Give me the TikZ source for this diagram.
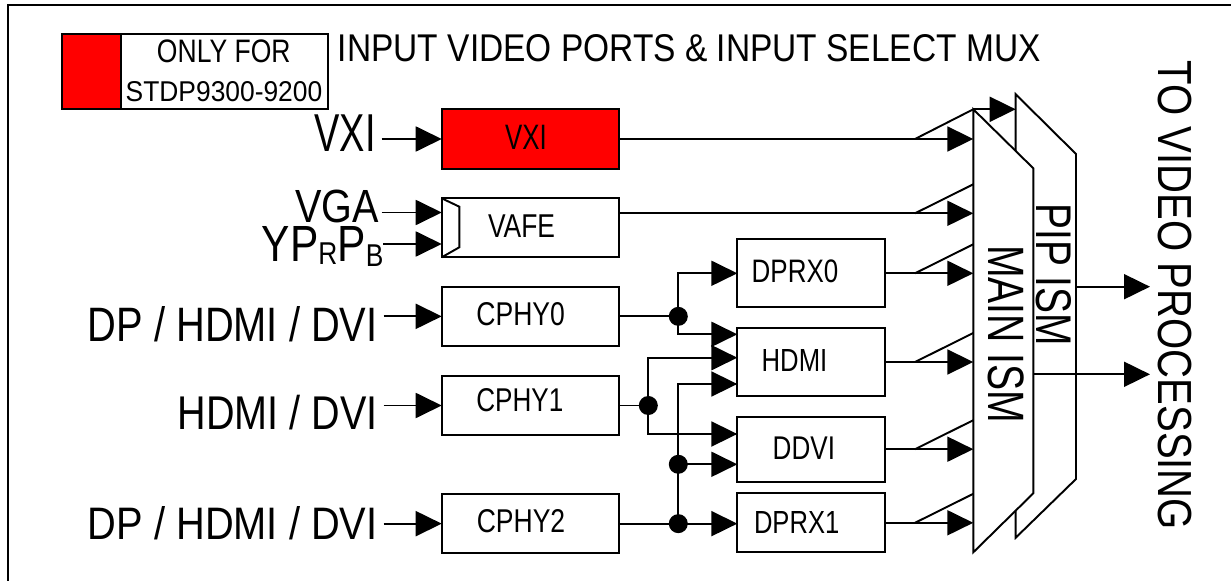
\documentclass[tikz,border=0pt]{standalone}
\usepackage{fontspec}
\setmainfont{Liberation Sans}
\usepackage{graphicx}
\usetikzlibrary{arrows.meta,calc}
\definecolor{vred}{RGB}{255,0,0}
\newlength\pxu
\setlength\pxu{0.02cm}
\newcommand\fitt[3]{\resizebox{#1\pxu}{#2\pxu}{#3}}
\begin{document}
\begin{tikzpicture}[x=0.02cm,y=-0.02cm,
  every node/.style={inner sep=0pt,outer sep=0pt},
  ln/.style={line width=1.1pt},
  arr/.style={ln,-{Triangle[length=0.52cm,width=0.5cm]}},
  lbox/.style={draw,ln,fill=white,minimum width=3.552cm,minimum height=1.186cm},
  rbox/.style={draw,ln,fill=white,minimum width=2.954cm},
  lbl/.style={outer xsep=0.12cm},
  dot/.style={circle,fill=black,minimum size=0.38cm}]
\useasboundingbox (0,0) rectangle (1231,581);

% frame
\draw[line width=1.45pt] (8,581) -- (8,5) -- (1231,5);

% legend and title
\node[draw,ln,minimum width=5.32cm,minimum height=1.506cm] (legend) at (195,71.65) {};
\node[draw,ln,fill=vred,minimum width=1.18cm,minimum height=1.506cm] (legred) at (91.5,71.65) {};
\node (leg1) at (223.8,51.35) {\fitt{133.6}{22.7}{ONLY FOR}};
\node (leg2) at (224,91.7) {\fitt{196.6}{20}{STDP9300-9200}};
\node (title) at (689.3,48.35) {\fitt{702.6}{27}{INPUT VIDEO PORTS \& INPUT SELECT MUX}};

% left column boxes
\node[lbox,fill=vred,minimum height=1.188cm] (vxi) at (530.5,139) {};
\node (vxit) at (526,137.2) {\fitt{41.7}{24.3}{VXI}};
\node[lbox,minimum height=1.18cm] (vafe) at (530.5,227.8) {};
\draw[ln] (vafe.north west) -- ++(17.6,8.4) -- ++(0,40.6) -- (vafe.south west);
\node (vafet) at (521.5,226.35) {\fitt{67}{22.7}{VAFE}};
\node[lbox] (cphy0) at (530.5,316.35) {};
\node (cphy0t) at (520.7,314.2) {\fitt{88.5}{23}{CPHY0}};
\node[lbox] (cphy1) at (530.5,405.5) {};
\node (cphy1t) at (519.8,400) {\fitt{87}{23}{CPHY1}};
\node[lbox] (cphy2) at (530.5,523.65) {};
\node (cphy2t) at (521,521.3) {\fitt{88.5}{23}{CPHY2}};

% right column boxes
\node[rbox,minimum height=1.36cm] (dprx0) at (811.15,273.3) {};
\node (dprx0t) at (795,271.35) {\fitt{86.6}{22.7}{DPRX0}};
\node[rbox,minimum height=1.348cm] (hdmi) at (811.15,362) {};
\node (hdmit) at (794.5,360.85) {\fitt{65.6}{22}{HDMI}};
\node[rbox,minimum height=1.3cm] (ddvi) at (811.15,449.2) {};
\node (ddvit) at (803.85,448) {\fitt{62.3}{22.6}{DDVI}};
\node[rbox,minimum height=1.18cm] (dprx1) at (811.15,522.8) {};
\node (dprx1t) at (796.65,522.5) {\fitt{85.3}{22}{DPRX1}};

% left labels and input arrows
\node[lbl] (lvxi) at (345,133.4) {\fitt{61.2}{36.7}{VXI}};
\draw[arr] (lvxi.east |- vxi.west) -- (vxi.west);
\node[lbl,outer xsep=0.06cm] (lvga) at (336.8,206.2) {\fitt{83.6}{32.5}{VGA}};
\coordinate (vgain) at ($(vafe.west)+(0,-15.3)$);
\draw[arr] (lvga.east |- vgain) -- (vgain);
\node[anchor=base west] (lyp) at (261.7,261.7) {\fitt{121.6}{35}{YP\raisebox{-0.05em}{\scalebox{0.62}{R}}P\raisebox{-0.1em}{\scalebox{0.62}{B}}}};
\coordinate (ypin) at ($(vafe.west)+(0,16.2)$);
\draw[arr] (lyp.east |- ypin) -- (ypin);
\node[lbl] (ldp0) at (232.7,324.2) {\fitt{289.8}{35}{DP / HDMI / DVI}};
\draw[arr] (ldp0.east |- cphy0.west) -- (cphy0.west);
\node[lbl] (lhd) at (277.6,412.2) {\fitt{200}{34.3}{HDMI / DVI}};
\draw[arr] (lhd.east |- cphy1.west) -- (cphy1.west);
\node[lbl] (ldp2) at (232.7,522.8) {\fitt{289.8}{33}{DP / HDMI / DVI}};
\draw[arr] (ldp2.east |- cphy2.west) -- (cphy2.west);

% junctions
\coordinate (cx) at (678.3,0);
\coordinate (cx1) at (648.3,0);
\node[dot] (j0) at (cphy0.east -| cx) {};
\node[dot] (j1) at (cphy1.east -| cx1) {};
\node[dot] (j3) at (cphy2.east -| cx) {};
\node[dot] (j2) at (678.3,464.3) {};
\draw[ln] (cphy0.east) -- (j0.center);
\draw[arr] (j0.center) |- (dprx0.west);
\draw[arr] (j0.center) |- ($(hdmi.west)+(0,-27.7)$);
\draw[ln] (cphy1.east) -- (j1.center);
\draw[arr] (j1.center) |- ($(hdmi.west)+(0,-4.3)$);
\draw[arr] (j1.center) |- ($(ddvi.west)+(0,-15.2)$);
\draw[ln] (cphy2.east) -- (j3.center);
\draw[arr] (j3.center) -- (j3.center -| dprx1.west);
\draw[arr] (j3.center) |- ($(hdmi.west)+(0,22)$);
\draw[arr] (j2.center) -- (j2.center -| ddvi.west);

% muxes
\coordinate (pipTL) at (1015.7,94.3);
\coordinate (mainTL) at (973.3,109.3);
\draw[ln,fill=white] (pipTL) -- (1076,154) -- (1076,479) -- (1015.7,537.7) -- cycle;
\draw[ln,fill=white] (mainTL) -- (1033.3,168.3) -- (1033.3,493.3) -- (973.3,552.3) -- cycle;
\node[rotate=-90] (tmain) at (1006.2,334.2) {\fitt{178.3}{35.7}{MAIN ISM}};
\node[rotate=-90] (tpip) at (1054.2,274.7) {\fitt{142.7}{35}{PIP ISM}};
\node[rotate=-90] (tvp) at (1175,295.5) {\fitt{469}{33.4}{TO VIDEO PROCESSING}};

% inputs to muxes
\coordinate (mL) at (973.3,0);
\coordinate (sx) at (915,0);
\draw[arr] (vxi.east) -- (vxi.east -| mL);
\draw[ln] (vxi.east -| sx) -- (mainTL);
\draw[arr] (mainTL) -- (mainTL -| pipTL);
\coordinate (vaout) at ($(vafe.east)+(0,-14.5)$);
\draw[arr] (vaout) -- (vaout -| mL);
\draw[ln] (vaout -| sx) -- ++(58.3,-29);
\foreach \b in {dprx0,hdmi,ddvi,dprx1}{
  \draw[arr] (\b.east) -- (\b.east -| mL);
  \draw[ln] (\b.east -| sx) -- ++(58.3,-29);
}

% outputs
\coordinate (pipR) at (1076,286.7);
\coordinate (mainR) at (1033.3,374.3);
\coordinate (vp1) at (1150,286.7);
\coordinate (vp2) at (1150,374.3);
\draw[arr] (pipR) -- (vp1);
\draw[arr] (mainR) -- (vp2);
\end{tikzpicture}
\end{document}
